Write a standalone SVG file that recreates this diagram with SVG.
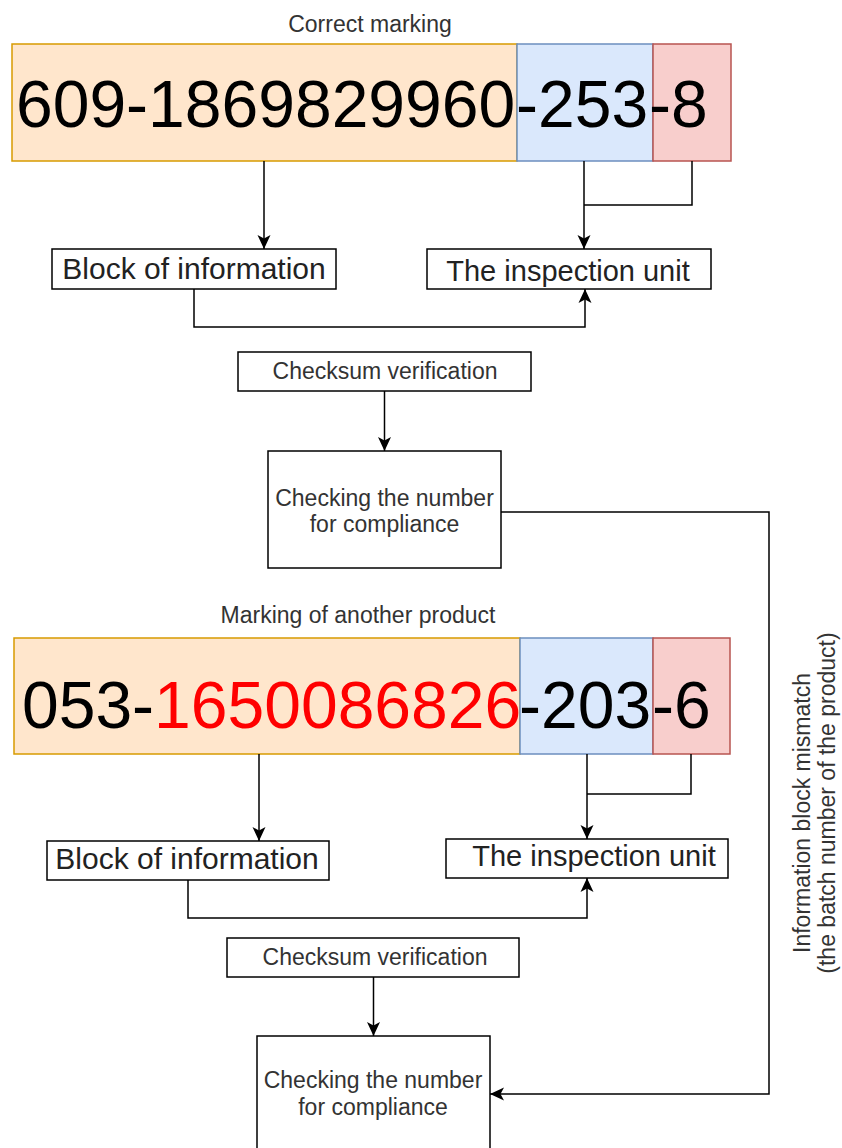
<svg xmlns="http://www.w3.org/2000/svg" width="842" height="1148" viewBox="0 0 842 1148">
<style>
text{font-family:"Liberation Sans",Arial,sans-serif}
.lbl{font-size:23px;fill:#333;text-anchor:middle}
.box{fill:#fff;stroke:#000;stroke-width:1.5}
.big{font-size:66px;fill:#000}
.org{fill:#ffe6cc;stroke:#d79b00;stroke-width:1.5}
.blu{fill:#dae8fc;stroke:#6c8ebf;stroke-width:1.5}
.red{fill:#f8cecc;stroke:#b85450;stroke-width:1.5}
.mid{font-size:30px;fill:#222;text-anchor:middle}
.ln{fill:none;stroke:#000;stroke-width:1.5}
.arr{marker-end:url(#ah)}
</style>
<defs>
<marker id="ah" markerUnits="userSpaceOnUse" markerWidth="16" markerHeight="14" viewBox="0 0 16 14" refX="15" refY="7" orient="auto">
<path d="M1,0.5 L15,7 L1,13.5 L4.5,7 Z" fill="#000"/>
</marker>
</defs>

<text class="lbl" x="370" y="32">Correct marking</text>
<g id="num1">
<rect id="n1-info" class="org" x="12" y="44" width="505" height="117"/>
<rect id="n1-batch" class="blu" x="517" y="44" width="136" height="117"/>
<rect id="n1-check" class="red" x="653" y="44" width="78" height="117"/>
<text class="big" x="16" y="127">609-1869829960</text>
<text class="big" x="516" y="127">-253</text>
<text class="big" x="649" y="127">-8</text>
</g>
<g id="block1"><rect class="box" x="52" y="249" width="284" height="40"/><text class="mid" x="194" y="279">Block of information</text></g>
<g id="insp1"><rect class="box" x="427" y="249" width="284" height="40"/><text class="mid" x="568" y="281" style="font-size:29px">The inspection unit</text></g>
<g id="checksum1"><rect class="box" x="238" y="352" width="293" height="39"/><text class="lbl" x="385" y="379">Checksum verification</text></g>
<g id="check1"><rect class="box" x="268" y="451" width="233" height="117"/><text class="lbl" x="384.5" y="506">Checking the number</text><text class="lbl" x="384.5" y="532">for compliance</text></g>

<text class="lbl" x="358" y="623">Marking of another product</text>
<g id="num2">
<rect id="n2-info" class="org" x="14" y="638" width="506" height="116"/>
<rect id="n2-batch" class="blu" x="520" y="638" width="133" height="116"/>
<rect id="n2-check" class="red" x="653" y="638" width="77" height="116"/>
<text class="big" x="22" y="728">053-<tspan fill="#ff0000">1650086826</tspan></text>
<text class="big" x="519" y="728">-203</text>
<text class="big" x="652" y="728">-6</text>
</g>
<g id="block2"><rect class="box" x="47" y="841" width="282" height="39"/><text class="mid" x="187" y="869">Block of information</text></g>
<g id="insp2"><rect class="box" x="446" y="839" width="282" height="39"/><text class="mid" x="594" y="866" style="font-size:29px">The inspection unit</text></g>
<g id="checksum2"><rect class="box" x="227" y="938" width="292" height="39"/><text class="lbl" x="375" y="965">Checksum verification</text></g>
<g id="check2"><rect class="box" x="257" y="1036" width="233" height="130"/><text class="lbl" x="373" y="1088">Checking the number</text><text class="lbl" x="373" y="1115">for compliance</text></g>

<g id="mismatch-label">
<text class="lbl" transform="translate(810,813) rotate(-90)" x="0" y="0">Information block mismatch</text>
<text class="lbl" transform="translate(835,803) rotate(-90)" x="0" y="0">(the batch number of the product)</text>
</g>

<g id="connectors">
<path class="ln arr" d="M264,161 V249"/>
<path class="ln arr" d="M584,161 V249"/>
<path class="ln" d="M692,161 V205 H584"/>
<path class="ln arr" d="M194,289 V327 H585 V289"/>
<path class="ln arr" d="M384.5,391 V451"/>
<path class="ln arr" d="M501,512 H769 V1094 H490"/>
<path class="ln arr" d="M259,754 V841"/>
<path class="ln arr" d="M587,754 V839"/>
<path class="ln" d="M691,754 V794 H587"/>
<path class="ln arr" d="M188,880 V918 H587 V878"/>
<path class="ln arr" d="M373.5,977 V1036"/>
</g>
</svg>
